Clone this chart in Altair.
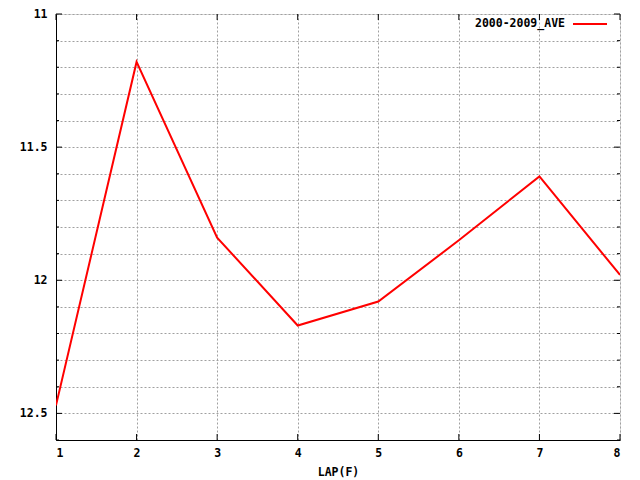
import altair as alt
import pandas as pd

laps = [1, 2, 3, 4, 5, 6, 7, 8]
ave = [12.47, 11.18, 11.84, 12.17, 12.08, 11.85, 11.61, 11.98]
series_name = "2000-2009_AVE"

y_ticks = [11.0, 11.1, 11.2, 11.3, 11.4, 11.5, 11.6, 11.7, 11.8, 11.9,
           12.0, 12.1, 12.2, 12.3, 12.4, 12.5, 12.6]
y_major = [11.0, 11.5, 12.0, 12.5]
y_minor = [v for v in y_ticks if v not in y_major]
x_ticks = [1, 2, 3, 4, 5, 6, 7, 8]

FONT = "DejaVu Sans Mono"
W, H = 564, 426

df = pd.DataFrame({"lap": laps, "t": ave, "series": series_name})
maj = pd.DataFrame({"v": y_major})
mnr = pd.DataFrame({"v": y_minor})
xt = pd.DataFrame({"x": x_ticks})

xscale = alt.Scale(domain=[1, 8], nice=False, zero=False)
yscale = alt.Scale(domain=[11, 12.6], reverse=True, nice=False, zero=False)

xaxis = alt.Axis(values=x_ticks, title="LAP(F)", format="d", grid=True, gridColor="#a0a0a0",
                 gridDash=[2, 2], gridWidth=1, tickSize=0, labelPadding=7,
                 labelOverlap=False,
                 domainColor="black", labelFont=FONT, labelFontWeight="bold",
                 labelFontSize=11.5, labelColor="black", titleFont=FONT,
                 titleFontWeight="bold", titleFontSize=11.5, titleColor="black",
                 titlePadding=8)
yaxis = alt.Axis(values=y_ticks, title=None, grid=True, gridColor="#a0a0a0",
                 gridDash=[2, 2], gridWidth=1, tickSize=0, labelPadding=9,
                 labelOverlap=False, labelBound=False,
                 domainColor="black", labelFont=FONT, labelFontWeight="bold",
                 labelFontSize=11.5, labelColor="black",
                 labelExpr="abs(round(datum.value*10)%5)==0 ? format(datum.value,'~g') : ''")

line = alt.Chart(df).mark_line(color="#ff0000", strokeWidth=2, clip=True).encode(
    x=alt.X("lap:Q", scale=xscale, axis=xaxis),
    y=alt.Y("t:Q", scale=yscale, axis=yaxis),
)

def yticks(data, length, right):
    if right:
        x1, x2 = W - length, W
    else:
        x1, x2 = 0, length
    return alt.Chart(data).mark_rule(color="black", strokeWidth=1).encode(
        y=alt.Y("v:Q", scale=yscale, axis=yaxis), x=alt.value(x1), x2=alt.value(x2))

def xticks(top):
    y1, y2 = (0, 6) if top else (H - 6, H)
    return alt.Chart(xt).mark_rule(color="black", strokeWidth=1).encode(
        x=alt.X("x:Q", scale=xscale, axis=xaxis), y=alt.value(y1), y2=alt.value(y2))

leg_text = alt.Chart(pd.DataFrame({"s": [series_name]})).mark_text(
    font=FONT, fontWeight="bold", fontSize=11.5, align="right",
    baseline="middle", color="black").encode(
    text="s:N", x=alt.value(509), y=alt.value(10))
leg_line = alt.Chart(pd.DataFrame({"s": [series_name]})).mark_rule(
    color="#ff0000", strokeWidth=2).encode(
    x=alt.value(517), x2=alt.value(551), y=alt.value(10))

chart = alt.layer(
    line,
    yticks(maj, 6, False), yticks(mnr, 3, False),
    yticks(maj, 6, True), yticks(mnr, 3, True),
    xticks(False), xticks(True),
    leg_text, leg_line,
).properties(
    width=W, height=H,
    autosize=alt.AutoSizeParams(type="none"),
    padding={"left": 48, "top": 6, "right": 12, "bottom": 42},
).configure_view(stroke="black", strokeWidth=1).configure(background="white")

chart.save("out.html", embed_options={"renderer": "svg", "actions": False})
